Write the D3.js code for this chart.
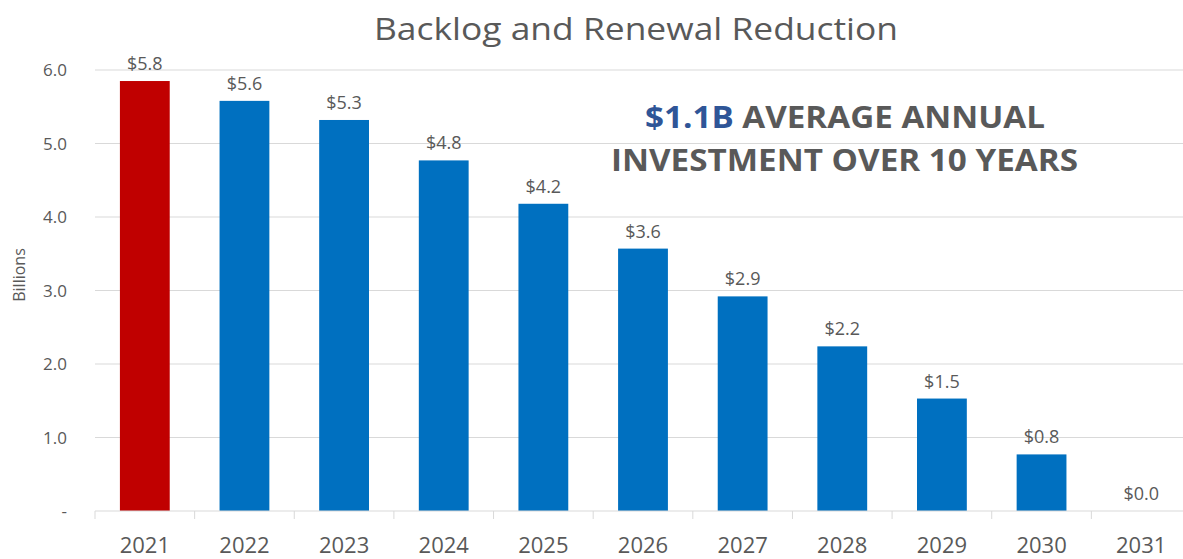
<!DOCTYPE html>
<html>
<head>
<meta charset="utf-8">
<script src="https://cdn.jsdelivr.net/npm/d3@7"></script>
<style>
  body { margin: 0; background: #fff; }
  svg { display: block; font-family: "Open Sans", "Noto Sans", sans-serif; }
</style>
</head>
<body>
<svg id="chart" width="1183" height="559"></svg>
<script>
// chart data
var years = ["2021", "2022", "2023", "2024", "2025", "2026", "2027", "2028", "2029", "2030", "2031"];
var values = [5.85, 5.58, 5.32, 4.77, 4.18, 3.57, 2.92, 2.24, 1.53, 0.77, 0.0];
var valueLabels = ["$5.8", "$5.6", "$5.3", "$4.8", "$4.2", "$3.6", "$2.9", "$2.2", "$1.5", "$0.8", "$0.0"];
var yTicks = [0, 1, 2, 3, 4, 5, 6];
var yTickLabels = ["-", "1.0", "2.0", "3.0", "4.0", "5.0", "6.0"];

var grey = "#595959";
var svg = d3.select("#chart");

// plot area (right side runs off the picture, like the original crop)
var x = d3.scaleBand().domain(years).range([95, 1191]).paddingInner(0.5).paddingOuter(0.25);
var y = d3.scaleLinear().domain([0, 6]).range([511, 70]);

// gridlines
svg.append("g")
  .selectAll("line")
  .data(yTicks.slice(1))
  .enter().append("line")
    .attr("x1", 95).attr("x2", 1191)
    .attr("y1", function(d){ return y(d); })
    .attr("y2", function(d){ return y(d); })
    .attr("stroke", "#d9d9d9")
    .attr("stroke-width", 1);

// y tick labels
svg.append("g")
  .selectAll("text")
  .data(yTicks)
  .enter().append("text")
    .attr("x", 67)
    .attr("y", function(d){ return y(d) + 6; })
    .attr("text-anchor", "end")
    .attr("fill", grey)
    .style("font-size", "17px")
    .text(function(d, i){ return yTickLabels[i]; });

// y axis title
svg.append("text")
  .attr("transform", "translate(25,275) rotate(-90)")
  .attr("text-anchor", "middle")
  .attr("fill", grey)
  .style("font-size", "16px")
  .text("Billions");

// bars
svg.append("g")
  .selectAll("rect")
  .data(values)
  .enter().append("rect")
    .attr("x", function(d, i){ return x(years[i]); })
    .attr("y", function(d){ return y(d); })
    .attr("width", x.bandwidth())
    .attr("height", function(d){ return y(0) - y(d); })
    .attr("fill", function(d, i){ return i == 0 ? "#C00000" : "#0070C0"; });

// value labels
svg.append("g")
  .selectAll("text")
  .data(values)
  .enter().append("text")
    .attr("x", function(d, i){ return x(years[i]) + x.bandwidth() / 2; })
    .attr("y", function(d){ return y(d) - 11; })
    .attr("text-anchor", "middle")
    .attr("fill", grey)
    .style("font-size", "18px")
    .text(function(d, i){ return valueLabels[i]; });

// x axis
var xAxis = d3.axisBottom(x).tickSize(0).tickPadding(0);
var gx = svg.append("g").attr("transform", "translate(0," + y(0) + ")");
gx.append("line")
  .attr("x1", 95).attr("x2", 1191)
  .attr("stroke", "#d9d9d9");
// tick marks between categories
gx.selectAll("line.tick")
  .data(d3.range(years.length + 1))
  .enter().append("line")
    .attr("class", "tick")
    .attr("x1", function(i){ return 95 + i * x.step(); })
    .attr("x2", function(i){ return 95 + i * x.step(); })
    .attr("y1", 0).attr("y2", 8)
    .attr("stroke", "#d9d9d9");
gx.append("g").call(xAxis)
  .call(function(g){ g.select(".domain").remove(); })
  .selectAll("text")
    .attr("y", 42)
    .attr("dy", 0)
    .attr("fill", grey)
    .style("font-family", "\"Open Sans\", sans-serif")
    .style("font-size", "22px");

// title
svg.append("text")
  .attr("x", 636)
  .attr("y", 40)
  .attr("text-anchor", "middle")
  .attr("fill", grey)
  .attr("textLength", 524)
  .attr("lengthAdjust", "spacingAndGlyphs")
  .style("font-size", "31px")
  .text("Backlog and Renewal Reduction");

// annotation
var note = svg.append("g").style("font-weight", "bold").style("font-size", "30px").attr("fill", grey);
var line1 = note.append("text")
  .attr("x", 645).attr("y", 128)
  .attr("textLength", 400)
  .attr("lengthAdjust", "spacingAndGlyphs");
line1.append("tspan").attr("fill", "#2F5597").text("$1.1B");
line1.append("tspan").text(" AVERAGE ANNUAL");
note.append("text")
  .attr("x", 611).attr("y", 171)
  .attr("textLength", 467)
  .attr("lengthAdjust", "spacingAndGlyphs")
  .text("INVESTMENT OVER 10 YEARS");
</script>
</body>
</html>
